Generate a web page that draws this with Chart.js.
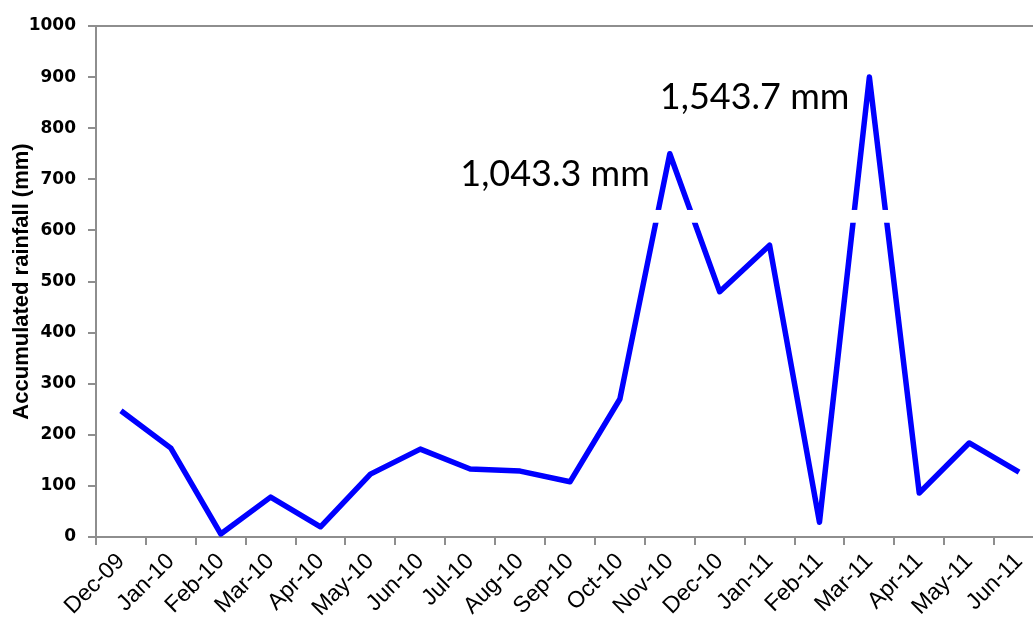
<!DOCTYPE html>
<html>
<head>
<meta charset="utf-8">
<script src="https://cdn.jsdelivr.net/npm/chart.js@4/dist/chart.umd.min.js"></script>
<style>
    html, body { margin: 0; padding: 0; background: #fff; overflow: hidden; }
    #rainChart { display: block; }
</style>
</head>
<body>
<canvas id="rainChart" width="1050" height="621"></canvas>
<script>
// monthly accumulated rainfall, Dec 2009 - Jun 2011
const months = ['Dec-09', 'Jan-10', 'Feb-10', 'Mar-10', 'Apr-10', 'May-10', 'Jun-10', 'Jul-10',
    'Aug-10', 'Sep-10', 'Oct-10', 'Nov-10', 'Dec-10', 'Jan-11', 'Feb-11', 'Mar-11', 'Apr-11',
    'May-11', 'Jun-11'];
const rainfall = [247, 174, 6, 78, 20, 123, 172, 133, 129, 108, 270, 1043.3, 480, 571, 29,
    1543.7, 86, 184, 127];
const yTicks = [0, 100, 200, 300, 400, 500, 600, 700, 800, 900, 1000];
// months whose totals get a text label
const labelled = ['Nov-10', 'Mar-11'];

// broken y axis: above the break the scale is squeezed
const breakLow = 615;
const breakHigh = 640;
const squeeze = 0.3;
const squeezeBase = 437;

function toAxis(v) {
    return v <= breakLow ? v : squeezeBase + squeeze * v;
}

const AXIS_GREY = '#8e8e8e';

const breakPlugin = {
    id: 'axisBreak',
    afterDatasetsDraw(chart) {
        const { ctx, chartArea, scales } = chart;
        const top = scales.y.getPixelForValue(breakHigh);
        const bottom = scales.y.getPixelForValue(breakLow);
        ctx.save();
        ctx.fillStyle = '#fff';
        ctx.fillRect(chartArea.left + 2, top, chartArea.width, bottom - top);
        ctx.restore();
    }
};

const peakLabels = {
    id: 'peakLabels',
    afterDraw(chart) {
        const { ctx, scales } = chart;
        ctx.save();
        ctx.font = '36px Lato, "Open Sans", sans-serif';
        ctx.fillStyle = '#000';
        ctx.textAlign = 'right';
        ctx.textBaseline = 'alphabetic';
        labelled.forEach(m => {
            const i = months.indexOf(m);
            const v = rainfall[i];
            const x = scales.x.getPixelForValue(i);
            const y = scales.y.getPixelForValue(toAxis(v));
            const text = v.toLocaleString('en-US', { minimumFractionDigits: 1 }) + ' mm';
            ctx.fillText(text, x - 20, y + 32);
        });
        ctx.restore();
    }
};

new Chart(document.getElementById('rainChart'), {
    type: 'line',
    data: {
        labels: months,
        datasets: [{
            data: rainfall.map(toAxis),
            borderColor: '#0000ff',
            borderWidth: 5.5,
            pointRadius: 0,
            tension: 0,
            fill: false,
            borderJoinStyle: 'round'
        }]
    },
    options: {
        responsive: false,
        animation: false,
        layout: { padding: { top: 26, right: 6, left: 0, bottom: 0 } },
        plugins: {
            legend: { display: false },
            tooltip: { enabled: false }
        },
        scales: {
            x: {
                offset: true,
                grid: {
                    offset: true,
                    drawOnChartArea: false,
                    color: AXIS_GREY,
                    lineWidth: 2,
                    tickLength: 8
                },
                border: { color: AXIS_GREY, width: 2 },
                ticks: {
                    color: '#000',
                    font: { family: '"Liberation Sans", Arial, sans-serif', size: 23 },
                    minRotation: 45,
                    maxRotation: 45,
                    autoSkip: false,
                    padding: 3
                },
                afterFit(scale) {
                    scale.height = 84;
                    scale.paddingLeft = 0;
                    scale.paddingRight = 0;
                }
            },
            y: {
                min: 0,
                max: 1000,
                afterBuildTicks(scale) {
                    scale.ticks = yTicks.map(v => ({ value: v }));
                },
                grid: {
                    color: ctx => ctx.tick && ctx.tick.value === 1000 ? AXIS_GREY : 'rgba(0,0,0,0)',
                    tickColor: AXIS_GREY,
                    lineWidth: 2,
                    tickLength: 8
                },
                border: { color: AXIS_GREY, width: 2 },
                ticks: {
                    color: '#000',
                    font: { family: '"DejaVu Sans", Verdana, sans-serif', size: 17, weight: 'bold' },
                    padding: 12,
                    callback: v => String(v)
                },
                title: {
                    display: true,
                    text: 'Accumulated rainfall (mm)',
                    color: '#000',
                    font: { family: '"Liberation Sans", Arial, sans-serif', size: 22, weight: 'bold' },
                    padding: { top: 9, bottom: 0 }
                },
                afterFit(scale) { scale.width = 96; }
            }
        }
    },
    plugins: [breakPlugin, peakLabels]
});
</script>
</body>
</html>
